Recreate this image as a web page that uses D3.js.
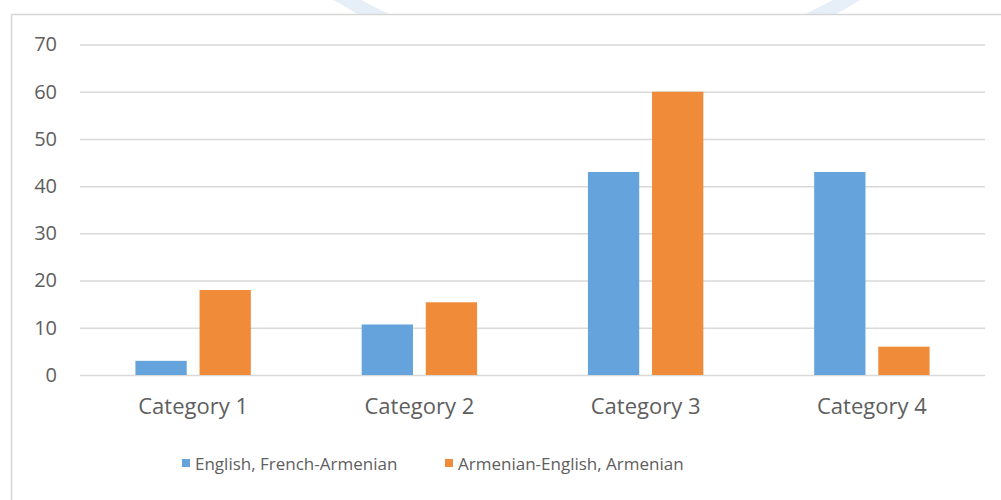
<!DOCTYPE html>
<html>
<head>
<meta charset="utf-8">
<script src="https://cdn.jsdelivr.net/npm/d3@7/dist/d3.min.js"></script>
<style>
  html, body { margin: 0; padding: 0; background: #ffffff; }
  svg { display: block; }
  text { font-family: "Open Sans", "Noto Sans", sans-serif; fill: #5e5e5e; }
</style>
</head>
<body>
<svg id="chart" width="1001" height="500"></svg>
<script>
// Chart data
const categories = ["Category 1", "Category 2", "Category 3", "Category 4"];
const seriesNames = ["English, French-Armenian", "Armenian-English, Armenian"];
const englishFrenchArmenian = [3, 10.7, 43, 43];
const armenianEnglishArmenian = [18, 15.4, 60, 6];
const yTicks = [0, 10, 20, 30, 40, 50, 60, 70];
const seriesColors = ["#64A3DB", "#F08B3A"];

const seriesValues = [englishFrenchArmenian, armenianEnglishArmenian];
const rows = categories.map((c, i) => ({
  category: c,
  values: seriesNames.map((s, j) => ({ series: s, value: seriesValues[j][i], idx: j }))
}));

const svg = d3.select("#chart");

// Faint ring from the page behind the chart frame
svg.append("circle")
  .attr("cx", 597).attr("cy", -424).attr("r", 492)
  .attr("fill", "none").attr("stroke", "#e6eef8").attr("stroke-width", 14);

// Chart frame
svg.append("rect")
  .attr("x", 11.5).attr("y", 14.5)
  .attr("width", 1010).attr("height", 500)
  .attr("fill", "#ffffff")
  .attr("stroke", "#d6d6d6").attr("stroke-width", 1.5);

// Scales
const x0 = d3.scaleBand().domain(categories).range([80, 985])
  .paddingInner(0.49).paddingOuter(0.245);
const x1 = d3.scaleBand().domain(seriesNames).range([0, x0.bandwidth()])
  .paddingInner(0.2).paddingOuter(0);
const y = d3.scaleLinear().domain([0, 70]).range([375, 44.5]);

// Gridlines and y labels
const yAxis = d3.axisLeft(y).tickValues(yTicks).tickSize(-(985 - 80)).tickPadding(23);
const gy = svg.append("g").attr("transform", "translate(80,0)").call(yAxis);
gy.select(".domain").remove();
gy.selectAll(".tick line").attr("stroke", "#d9d9d9").attr("stroke-width", 1.5);
gy.selectAll(".tick text")
  .attr("fill", "#5e5e5e").attr("font-size", 20)
  .style("font-family", "'Open Sans', 'Noto Sans', sans-serif");

// Category axis labels
const xAxis = d3.axisBottom(x0).tickSize(0).tickPadding(23);
const gx = svg.append("g").attr("transform", "translate(0,375)").call(xAxis);
gx.select(".domain").remove();
gx.selectAll(".tick text")
  .attr("fill", "#5e5e5e").attr("font-size", 22)
  .style("font-family", "'Open Sans', 'Noto Sans', sans-serif");

// Bars
svg.append("g").selectAll("g")
  .data(rows).join("g")
  .attr("transform", d => `translate(${x0(d.category)},0)`)
  .selectAll("rect")
  .data(d => d.values).join("rect")
  .attr("x", d => x1(d.series))
  .attr("y", d => y(d.value))
  .attr("width", x1.bandwidth())
  .attr("height", d => y(0) - y(d.value))
  .attr("fill", d => seriesColors[d.idx]);

// Legend
const legendX = [182, 445];
const legend = svg.append("g").selectAll("g")
  .data(seriesNames).join("g")
  .attr("transform", (d, i) => `translate(${legendX[i]},459)`);
legend.append("rect")
  .attr("width", 8).attr("height", 8).attr("y", 0)
  .attr("fill", (d, i) => seriesColors[i]);
legend.append("text")
  .attr("x", 13).attr("y", 11)
  .attr("font-size", 17)
  .text(d => d);
</script>
</body>
</html>
